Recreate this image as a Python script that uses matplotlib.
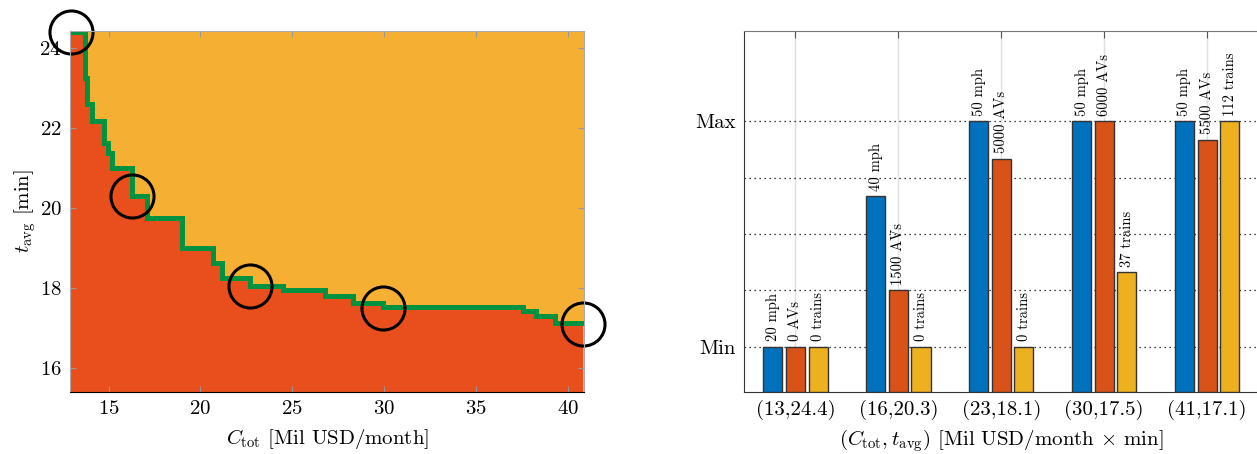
import numpy as np
import matplotlib
matplotlib.use("Agg")
import matplotlib.pyplot as plt

plt.rcParams['font.family'] = 'serif'
plt.rcParams['font.serif'] = ['cmr10']
plt.rcParams['mathtext.fontset'] = 'cm'
plt.rcParams['axes.formatter.use_mathtext'] = True
plt.rcParams['font.size'] = 15

# Pareto front (staircase): cost where each level starts, travel time of the level
front_cost = [12.95, 13.7, 13.8, 14.08, 14.73, 14.95, 15.2, 16.25, 17.07, 19.0, 20.7,
              21.2, 22.7, 24.5, 26.8, 28.3, 29.95, 37.55, 38.3, 39.3, 40.85]
front_time = [24.4, 23.25, 22.6, 22.18, 21.63, 21.38, 21.0, 20.3, 19.75, 19.0, 18.62,
              18.25, 18.05, 17.95, 17.8, 17.62, 17.52, 17.42, 17.3, 17.12, 17.12]
# highlighted designs
sel_cost = [12.95, 16.25, 22.7, 29.95, 40.85]
sel_time = [24.4, 20.3, 18.05, 17.5, 17.1]

# bar chart
group_labels = ['(13,24.4)', '(16,20.3)', '(23,18.1)', '(30,17.5)', '(41,17.1)']
speed = [20, 40, 50, 50, 50]        # mph
avs = [0, 1500, 5000, 6000, 5500]   # AVs
trains = [0, 0, 0, 37, 112]         # trains
speed_rng = (20, 50)
avs_rng = (0, 6000)
trains_rng = (0, 112)

c_below = '#E84F1C'
c_above = '#F5B034'
c_front = '#00923F'
bar_cols = ['#0072BD', '#D95319', '#EDB120']

fig = plt.figure(figsize=(12.57, 4.54), dpi=100)

# ---- left: Pareto front
ax1 = fig.add_axes([0.0557, 0.1366, 0.409, 0.795])
xlo, xhi = 12.9, 40.9
ylo, yhi = 15.4, 24.42
ax1.fill_between([xlo, xhi], ylo, yhi, color=c_above, lw=0)
ax1.fill_between(front_cost, ylo, front_time, step='post', color=c_below, lw=0)
ax1.step(front_cost, front_time, where='post', color=c_front, lw=3.6, solid_joinstyle='miter')
ax1.plot(sel_cost, sel_time, 'o', mfc='none', mec='k', ms=31, mew=2.2, clip_on=False)
ax1.set_xlim(xlo, xhi)
ax1.set_ylim(ylo, yhi)
ax1.set_xticks([15, 20, 25, 30, 35, 40])
ax1.set_yticks([16, 18, 20, 22, 24])
ax1.tick_params(direction='in', top=True, right=True, color='#999999', length=4, pad=6)
for s in ['top', 'right', 'left']:
    ax1.spines[s].set_color('#aaaaaa')
ax1.spines['bottom'].set_color('k')
ax1.set_xlabel(r'$C_{\rm tot}$ [Mil USD/month]', labelpad=6)
ax1.set_ylabel(r'$t_{\rm avg}$ [min]', labelpad=1)

# ---- right: design variables of the highlighted designs
ax2 = fig.add_axes([0.5919, 0.1366, 0.4093, 0.795])
base = -0.2
x = np.arange(1, len(group_labels) + 1)
series = [
    (speed, speed_rng, '{} mph'),
    (avs, avs_rng, '{} AVs'),
    (trains, trains_rng, '{} trains'),
]
offs = [-0.22, 0.0, 0.22]
ax2.set_axisbelow(True)
for (vals, rng, fmt), off, col in zip(series, offs, bar_cols):
    norm = (np.array(vals) - rng[0]) / (rng[1] - rng[0])
    ax2.bar(x + off, norm - base, bottom=base, width=0.185, color=col,
            edgecolor='#333333', lw=1.0, zorder=3)
    for xi, h, v in zip(x + off, norm, vals):
        ax2.text(xi, h + 0.025, fmt.format(v), rotation=90, ha='center', va='bottom',
                 fontsize=10.5, zorder=4)
ax2.set_xlim(0.5, 5.5)
ax2.set_ylim(base, 1.4)
ax2.set_xticks(x)
ax2.set_xticklabels(group_labels)
ax2.set_yticks([0, 0.25, 0.5, 0.75, 1.0])
ax2.set_yticklabels(['Min', '', '', '', 'Max'])
ax2.yaxis.grid(True, linestyle=(0, (1, 3)), color='k', lw=0.9)
ax2.xaxis.grid(True, color='#e0e0e0', lw=1.0)
ax2.tick_params(axis='x', direction='in', top=True, length=5, color='#555555', pad=6)
ax2.tick_params(axis='y', length=0, pad=6)
for s in ax2.spines.values():
    s.set_color('#333333')
ax2.spines['top'].set_color('#777777')
ax2.set_xlabel(r'$(C_{\rm tot},t_{\rm avg})$ [Mil USD/month $\times$ min]', labelpad=5)

fig.savefig('out.png', dpi=100)
